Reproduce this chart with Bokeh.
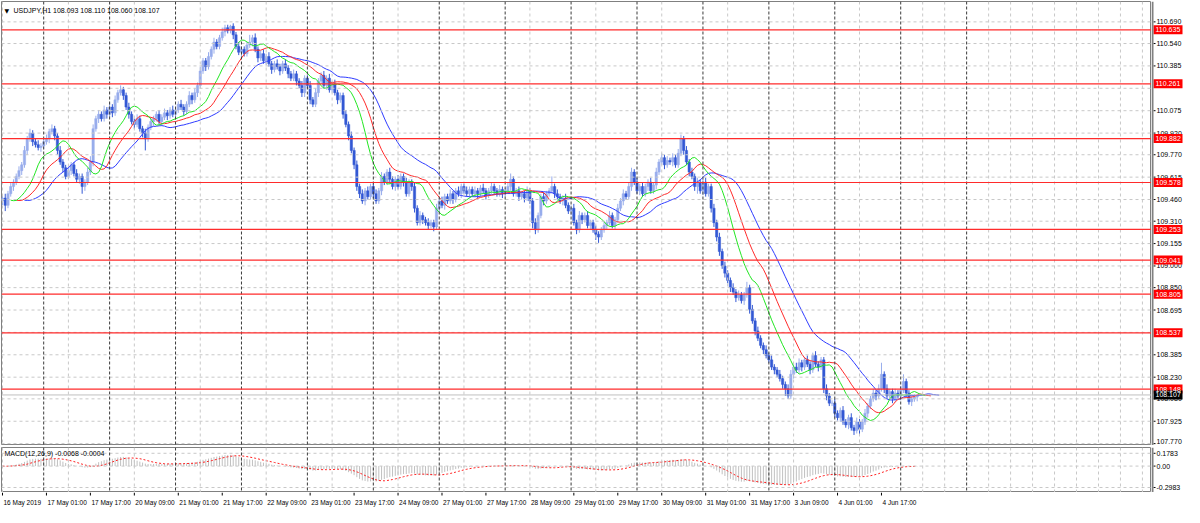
import numpy as np
import pandas as pd
from bokeh.plotting import figure
from bokeh.layouts import column, row
from bokeh.models import ColumnDataSource, Label, Span, Range1d
from bokeh.core.properties import value
from bokeh.embed import file_html
from bokeh.resources import INLINE

# ---------------- data ----------------
first_open = 109.45
closes = [
    109.47, 109.42, 109.50, 109.55, 109.58, 109.62, 109.66, 109.70, 109.80, 109.88,
    109.92, 109.86, 109.84, 109.82, 109.83, 109.86, 109.88, 109.93, 109.95, 109.90,
    109.80, 109.72, 109.68, 109.62, 109.66, 109.70, 109.64, 109.60, 109.62, 109.55,
    109.58, 109.65, 109.72, 109.95, 110.02, 110.05, 110.02, 110.08, 110.05, 110.10,
    110.06, 110.15, 110.20, 110.22, 110.18, 110.10, 110.05, 110.00, 109.98, 110.02,
    109.95, 109.92, 109.88, 109.96, 110.00, 110.02, 110.05, 110.00, 110.03, 110.06,
    110.04, 110.08, 110.05, 110.08, 110.12, 110.10, 110.07, 110.12, 110.18, 110.15,
    110.20, 110.25, 110.35, 110.42, 110.38, 110.45, 110.50, 110.55, 110.52, 110.58,
    110.62, 110.65, 110.63, 110.66, 110.60, 110.52, 110.48, 110.50, 110.47, 110.53,
    110.55, 110.58, 110.50, 110.44, 110.47, 110.42, 110.45, 110.40, 110.36, 110.40,
    110.38, 110.35, 110.40, 110.37, 110.33, 110.30, 110.33, 110.28, 110.25, 110.20,
    110.30, 110.25, 110.15, 110.12, 110.20, 110.28, 110.32, 110.25, 110.30, 110.22,
    110.26, 110.20, 110.15, 110.18, 110.05, 109.98, 109.90, 109.80, 109.70, 109.55,
    109.50, 109.45, 109.52, 109.48, 109.55, 109.50, 109.45, 109.52, 109.62, 109.58,
    109.65, 109.60, 109.55, 109.60, 109.55, 109.62, 109.58, 109.50, 109.58, 109.55,
    109.40, 109.30, 109.35, 109.32, 109.30, 109.28, 109.30, 109.27, 109.40, 109.45,
    109.42, 109.48, 109.45, 109.50, 109.46, 109.52, 109.50, 109.55, 109.52, 109.50,
    109.53, 109.50, 109.52, 109.50, 109.54, 109.52, 109.49, 109.52, 109.55, 109.52,
    109.50, 109.53, 109.50, 109.52, 109.55, 109.60, 109.50, 109.52, 109.48, 109.50,
    109.47, 109.52, 109.45, 109.30, 109.25, 109.35, 109.48, 109.45, 109.50, 109.52,
    109.55, 109.50, 109.48, 109.45, 109.47, 109.42, 109.38, 109.40, 109.30, 109.25,
    109.35, 109.32, 109.35, 109.28, 109.30, 109.25, 109.22, 109.20, 109.25, 109.28,
    109.30, 109.35, 109.28, 109.32, 109.40, 109.45, 109.50, 109.48, 109.55, 109.65,
    109.58, 109.52, 109.55, 109.50, 109.55, 109.58, 109.52, 109.56, 109.65, 109.72,
    109.75, 109.70, 109.73, 109.72, 109.75, 109.70, 109.78, 109.88, 109.80, 109.72,
    109.65, 109.62, 109.55, 109.58, 109.52, 109.58, 109.50, 109.55, 109.40, 109.30,
    109.20, 109.10, 109.00, 108.95, 108.90, 108.85, 108.82, 108.78, 108.80, 108.76,
    108.80, 108.85, 108.70, 108.62, 108.55, 108.50, 108.45, 108.42, 108.38, 108.35,
    108.30, 108.28, 108.25, 108.22, 108.18, 108.15, 108.10, 108.25, 108.30, 108.28,
    108.33, 108.30, 108.35, 108.32, 108.28, 108.38, 108.32, 108.30, 108.35, 108.15,
    108.10, 108.05, 108.05, 107.98, 107.95, 108.00, 107.92, 107.90, 107.95, 107.88,
    107.86, 107.92, 107.87, 107.92, 107.98, 108.03, 108.08, 108.12, 108.10, 108.15,
    108.25, 108.15, 108.10, 108.13, 108.08, 108.12, 108.10, 108.14, 108.20, 108.12,
    108.06, 108.08, 108.093, 108.107,
]
# upper / lower shadow lengths, in 0.01 yen
up_wick = [
    2,3,2,3,2,2,3,2,3,2, 3,2,2,3,2,2,3,2,3,2, 2,3,2,2,3,2,2,3,2,2, 2,3,4,3,2,3,2,3,2,3,
    2,3,2,3,2,2,3,2,2,3, 2,2,3,2,3,2,2,3,2,3, 2,2,3,2,2,3,2,2,3,2, 3,2,3,2,2,3,2,3,2,2,
    3,2,2,1,2,2,3,2,2,2, 5,2,3,2,2,3,2,3,2,2, 3,2,2,3,2,2,3,2,2,3, 2,2,3,2,3,2,2,3,2,3,
    2,3,2,2,2,3,2,3,2,3, 2,3,2,3,2,2,3,2,3,2, 2,3,2,2,3,2,2,3,2,2, 3,2,3,2,2,3,2,2,3,2,
    3,2,2,3,2,2,3,2,2,3, 2,2,3,2,2,3,2,2,3,2, 2,3,2,2,3,4,2,2,3,2, 2,3,2,2,3,2,2,3,2,2,
    7,2,3,2,2,3,2,2,3,2, 3,2,2,3,2,2,3,2,2,3, 2,3,2,2,3,2,3,2,3,3, 2,3,2,3,2,2,3,2,3,2,
    3,2,3,2,3,2,3,3,2,3, 2,3,2,3,2,2,3,2,2,3, 2,3,2,3,2,2,3,2,3,2, 2,4,2,3,2,3,2,2,3,2,
    3,2,2,3,2,2,3,3,2,3, 3,2,2,3,2,2,3,2,2,2, 3,2,2,3,2,2,3,2,2,3, 2,3,2,2,3,2,2,3,2,3,
    8,2,3,2,2,3,2,3,5,2, 2,3,2,0,
]
dn_wick = [
    3,4,2,2,3,2,2,3,2,3, 2,3,2,2,3,2,2,3,2,3, 3,2,3,2,2,3,2,2,3,5, 3,2,2,3,2,3,2,2,3,2,
    3,2,2,2,3,2,3,2,3,2, 2,3,8,2,2,3,2,2,3,2, 3,2,2,3,2,2,3,2,2,3, 2,3,2,2,3,2,2,3,2,2,
    2,3,2,2,3,2,2,3,2,2, 2,3,2,3,2,2,3,2,3,2, 2,3,2,2,3,2,2,3,2,3, 3,2,3,2,2,3,2,2,3,2,
    2,2,3,2,3,2,3,2,3,3, 3,2,3,2,2,3,2,2,3,2, 2,3,2,3,2,2,3,2,2,3, 3,2,2,3,2,3,2,3,2,3,
    2,3,2,2,3,2,2,3,2,2, 3,2,2,3,2,2,3,2,2,3, 2,2,3,2,2,3,2,2,3,2, 3,2,2,4,3,2,2,3,2,2,
    2,3,2,2,3,2,2,3,2,3, 2,3,2,2,3,2,4,4,2,2, 3,2,2,3,2,2,3,2,2,3, 2,2,3,2,2,3,2,2,3,2,
    2,3,2,2,3,2,2,2,3,2, 3,2,3,5,2,3,2,2,3,3, 3,3,2,3,2,3,2,3,2,2, 3,2,3,2,3,2,2,3,2,2,
    2,3,2,2,3,5,2,2,3,2, 2,3,2,2,3,2,2,3,2,3, 3,2,2,3,2,3,2,2,3,2, 3,2,4,2,2,3,2,2,3,2,
    2,3,2,2,3,2,2,3,2,3, 2,3,2,3,
]
x_labels = ["16 May 2019", "17 May 01:00", "17 May 17:00", "20 May 09:00", "21 May 01:00",
            "21 May 17:00", "22 May 09:00", "23 May 01:00", "23 May 17:00", "24 May 09:00",
            "27 May 01:00", "27 May 17:00", "28 May 09:00", "29 May 01:00", "29 May 17:00",
            "30 May 09:00", "31 May 01:00", "31 May 17:00", "3 Jun 09:00", "4 Jun 01:00",
            "4 Jun 17:00"]
bars_per_label = 16
price_ticks = [110.690, 110.540, 110.385, 110.230, 110.075, 109.920, 109.770, 109.615,
               109.460, 109.310, 109.155, 109.000, 108.850, 108.695, 108.540, 108.385,
               108.230, 108.080, 107.925, 107.770]
hidden_ticks = [110.230, 108.540]
levels = [110.635, 110.261, 109.882, 109.578, 109.253, 109.041, 108.805, 108.537, 108.148]
last_price = 108.107
macd_ticks = [0.1783, 0.0, -0.2983]
macd_tick_text = ["0.1783", "0.00", "-0.2983"]
title_text = "USDJPY,H1  108.093 108.110 108.060 108.107"
macd_text = "MACD(12,26,9) -0.0068 -0.0004"

# ---------------- derived series ----------------
N = len(closes)
idx = np.arange(N)
c = np.array(closes)
o = np.array([first_open] + closes[:-1])
hi = np.maximum(o, c) + np.array(up_wick[:N]) * 0.01
lo = np.minimum(o, c) - np.array(dn_wick[:N]) * 0.01
bull = c >= o

def smma(v, n):
    out = np.empty(len(v))
    out[0] = v[0]
    for i in range(1, len(v)):
        out[i] = (out[i - 1] * (n - 1) + v[i]) / n
    return out

med = (hi + lo) / 2
jaw, teeth, lips = smma(med, 13), smma(med, 8), smma(med, 5)

def ema(v, n):
    a = 2.0 / (n + 1)
    out = np.empty(len(v))
    out[0] = v[0]
    for i in range(1, len(v)):
        out[i] = a * v[i] + (1 - a) * out[i - 1]
    return out

macd = ema(c, 12) - ema(c, 26)
signal = pd.Series(macd).rolling(9, min_periods=1).mean().values

# ---------------- styling ----------------
FONT = "Liberation Sans"
FS = "7px"
X0, X1 = -0.36, 418.3
xr = Range1d(X0, X1)
GRID = "#c8c8c8"
SEP = "#3a3a3a"
AXW = 33
MAINW = 1151
gray_v = [24 * k for k in range(14)] + [335, 343, 359, 367, 375, 383, 391, 399, 407, 415]
black_v = [15 + 24 * k for k in range(15)]

def base_fig(w, h, xrng, yrng, top):
    f = figure(width=w, height=h, x_range=xrng, y_range=yrng, output_backend="svg",
               toolbar_location=None, x_axis_location=None, y_axis_location=None,
               min_border_left=1 if w == MAINW else 0, min_border_right=0,
               min_border_top=top, min_border_bottom=0)
    f.grid.visible = False
    f.background_fill_color = "white"
    f.border_fill_color = "white"
    return f

def add_vgrid(fig):
    for g in gray_v:
        fig.add_layout(Span(location=g, dimension="height", line_color=GRID,
                            line_dash="3 3", line_width=1))
    for g in black_v:
        fig.add_layout(Span(location=g, dimension="height", line_color=SEP,
                            line_dash="3 2", line_width=1))

def axis_fig(yrng, h, top, ticks, texts, lift_last=0):
    f = base_fig(AXW, h, Range1d(0, AXW), yrng, top)
    f.outline_line_color = None
    f.add_layout(Span(location=1, dimension="height", line_color="#808080", line_width=2))
    n = len(ticks)
    f.segment(x0=[2] * n, y0=ticks, x1=[4] * n, y1=ticks, line_color="black", line_width=1)
    offs = [0] * (n - 1) + [-lift_last]
    f.text(x=[5] * n, y=ticks, text=texts, y_offset=offs, text_font=value(FONT),
           text_font_size=FS, text_color="black", text_baseline="middle", text_align="left")
    return f

# ---------------- main price panel ----------------
yr_main = Range1d(107.757, 110.831)
p = base_fig(MAINW, 445, xr, yr_main, 1)
p.outline_line_color = "#808080"

for t in price_ticks:
    p.add_layout(Span(location=t, dimension="width", line_color=GRID, line_dash="3 3", line_width=1))
add_vgrid(p)

p.add_layout(Span(location=last_price, dimension="width", line_color="#c0c0c0", line_width=1))
for lv in levels:
    p.add_layout(Span(location=lv, dimension="width", line_color="#ff2b2b", line_width=1.2))

BULL, BEAR = "#98adec", "#3358d4"
src = ColumnDataSource(dict(x=idx, o=o, c=c, h=hi, l=lo,
                            col=[BULL if b else BEAR for b in bull]))
p.segment(x0="x", y0="l", x1="x", y1="h", color="col", line_width=1, source=src)
p.vbar(x="x", top="o", bottom="c", width=0.85, fill_color="col", line_color="col",
       line_width=0.5, source=src)

for arr, shift, col in [(jaw, 8, "#2f3cff"), (teeth, 5, "#ff2a2a"), (lips, 3, "#22e622")]:
    p.line(idx + shift, arr, line_color=col, line_width=1)

p.add_layout(Label(x=3, y=435, x_units="screen", y_units="screen", text="▼",
                   text_font="DejaVu Sans", text_font_size="6px", text_color="black",
                   text_baseline="middle"))
p.add_layout(Label(x=12, y=435, x_units="screen", y_units="screen", text=title_text,
                   text_font=FONT, text_font_size=FS, text_color="black",
                   text_baseline="middle"))

vis_ticks = [t for t in price_ticks if t not in hidden_ticks]
pa = axis_fig(yr_main, 445, 1, vis_ticks, [f"{t:.3f}" for t in vis_ticks], lift_last=2)
box_y = levels + [last_price]
box_col = ["#ff0000"] * len(levels) + ["#000000"]
pa.rect(x=[16.5] * len(box_y), y=box_y, width=29, height=9, height_units="screen",
        fill_color=box_col, line_color=None)
pa.text(x=[4] * len(box_y), y=box_y, text=[f"{v:.3f}" for v in box_y],
        text_font=value(FONT), text_font_size=FS, text_color="white",
        text_baseline="middle", text_align="left")

# ---------------- MACD panel ----------------
yr_macd = Range1d(-0.368, 0.259)
q = base_fig(MAINW, 47, xr, yr_macd, 2)
q.outline_line_color = "#808080"
for t in macd_ticks:
    q.add_layout(Span(location=t, dimension="width", line_color=GRID, line_dash="3 3", line_width=1))
add_vgrid(q)
q.segment(x0=idx, y0=np.zeros(N), x1=idx, y1=macd, line_color="#c0c0c0", line_width=1)
q.line(idx, signal, line_color="#ff2020", line_dash="2 2", line_width=1)
q.add_layout(Label(x=3, y=39, x_units="screen", y_units="screen", text=macd_text,
                   text_font=FONT, text_font_size=FS, text_color="black",
                   text_baseline="middle"))
qa = axis_fig(yr_macd, 47, 2, macd_ticks, macd_tick_text)

# ---------------- time axis strip ----------------
lab_idx = [k * bars_per_label for k in range(len(x_labels))]
xl = base_fig(MAINW, 15, xr, Range1d(0, 15), 0)
xl.outline_line_color = None
xl.segment(x0=lab_idx, y0=[15] * len(lab_idx), x1=lab_idx, y1=[12] * len(lab_idx),
           line_color="black", line_width=1)
xl.text(x=lab_idx, y=[5] * len(lab_idx), text=x_labels, x_offset=1,
        text_font=value(FONT), text_font_size="6.5px", text_color="black",
        text_baseline="middle", text_align="left")

layout = column(row(p, pa, spacing=0), row(q, qa, spacing=0), xl, spacing=0)
open("out.html", "w").write(file_html(layout, INLINE))
